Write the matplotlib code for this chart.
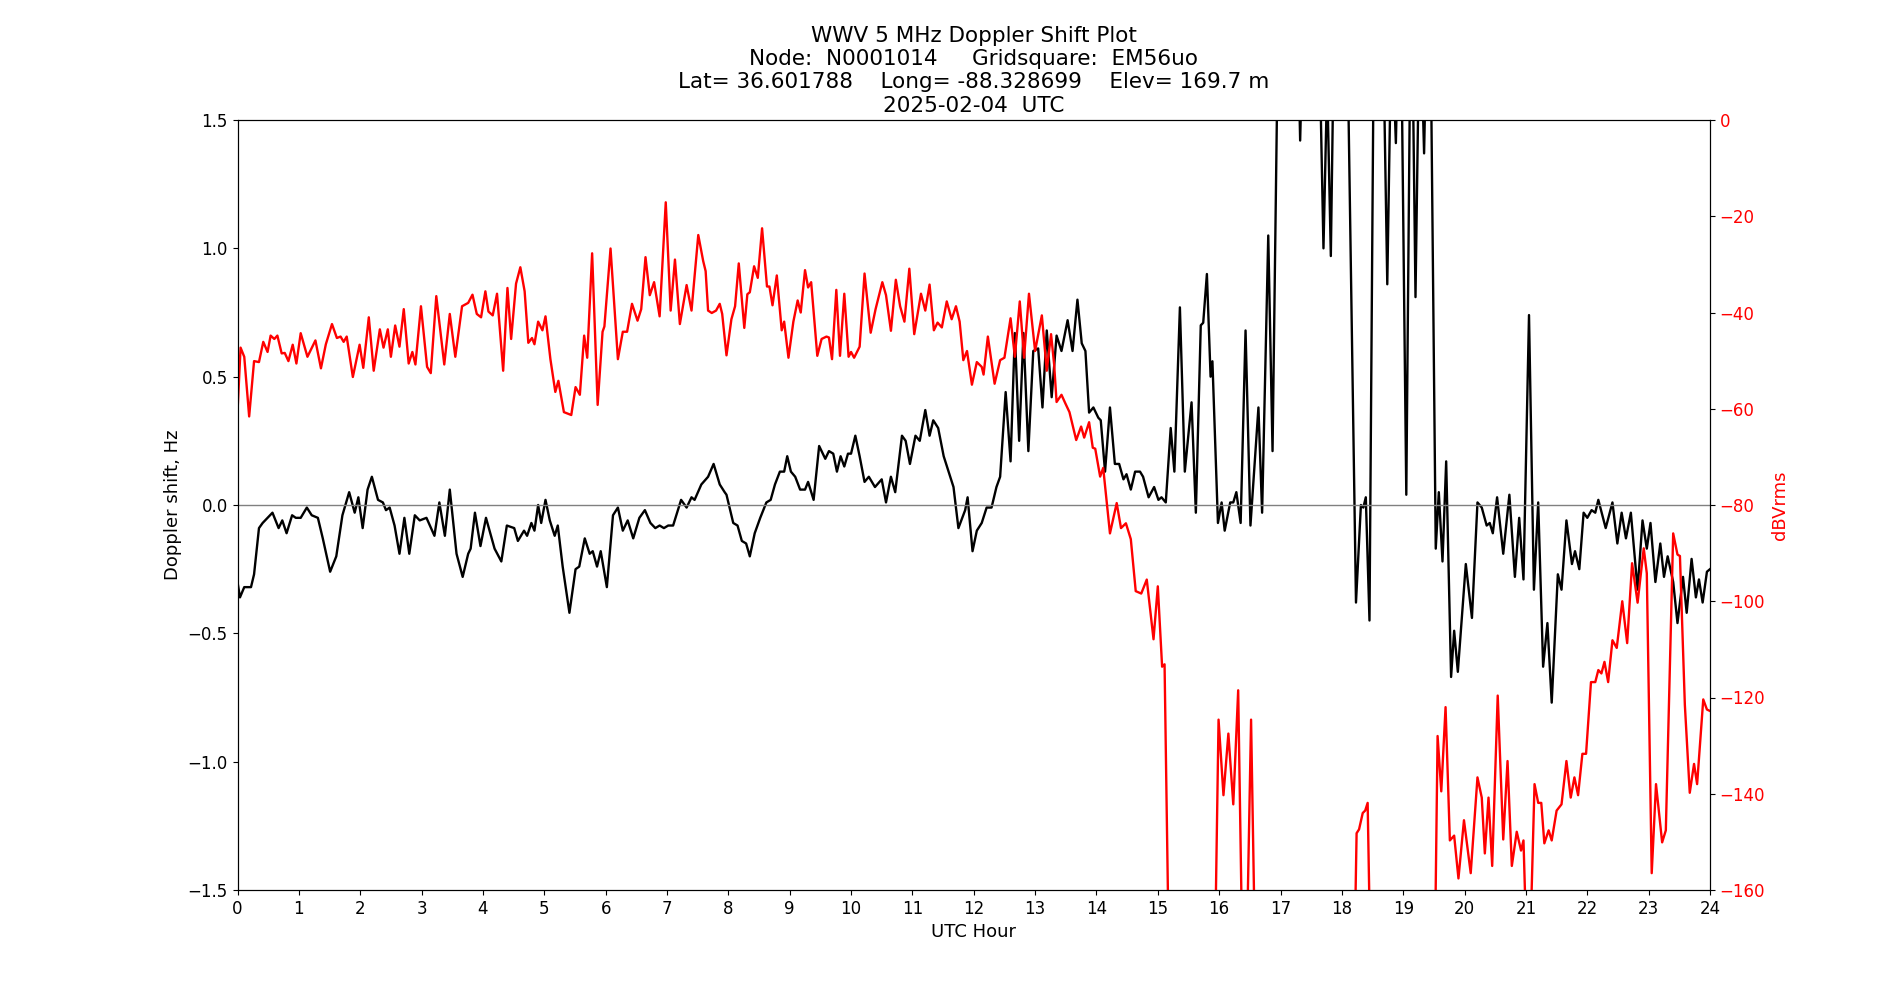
import matplotlib
matplotlib.use("Agg")
import matplotlib.pyplot as plt

# ---- Doppler shift (Hz) vs UTC hour ----
doppler_00_04 = [(0.00,-0.30),(0.04,-0.36),(0.11,-0.32),(0.22,-0.32),(0.27,-0.27),(0.35,-0.09),(0.41,-0.07),(0.49,-0.05),(0.57,-0.03),(0.67,-0.09),(0.73,-0.06),(0.80,-0.11),(0.89,-0.04),(0.95,-0.05),(1.03,-0.05),(1.13,-0.01),(1.21,-0.04),(1.31,-0.05),(1.39,-0.13),(1.51,-0.26),(1.61,-0.20),(1.71,-0.04),(1.82,0.05),(1.91,-0.03),(1.97,0.03),(2.04,-0.09),(2.12,0.06),(2.19,0.11),(2.29,0.02),(2.37,0.01),(2.42,-0.02),(2.48,-0.01),(2.56,-0.08),(2.64,-0.19),(2.72,-0.05),(2.80,-0.19),(2.89,-0.04),(2.97,-0.06),(3.08,-0.05),(3.21,-0.12),(3.29,0.01),(3.38,-0.12),(3.46,0.06),(3.57,-0.19),(3.67,-0.28),(3.76,-0.19),(3.80,-0.17),(3.87,-0.03),(3.96,-0.16)]
doppler_04_08 = [(4.05,-0.05),(4.19,-0.17),(4.30,-0.22),(4.39,-0.08),(4.51,-0.09),(4.57,-0.14),(4.67,-0.10),(4.72,-0.12),(4.79,-0.07),(4.84,-0.10),(4.90,0.00),(4.95,-0.07),(5.02,0.02),(5.09,-0.06),(5.17,-0.12),(5.22,-0.08),(5.30,-0.24),(5.41,-0.42),(5.51,-0.25),(5.57,-0.24),(5.66,-0.13),(5.74,-0.19),(5.79,-0.18),(5.86,-0.24),(5.92,-0.18),(6.02,-0.32),(6.12,-0.04),(6.20,-0.01),(6.28,-0.10),(6.36,-0.06),(6.45,-0.13),(6.55,-0.05),(6.64,-0.02),(6.73,-0.07),(6.81,-0.09),(6.88,-0.08),(6.95,-0.09),(7.02,-0.08),(7.10,-0.08),(7.23,0.02),(7.32,-0.01),(7.40,0.03),(7.45,0.02),(7.56,0.08),(7.67,0.11),(7.76,0.16),(7.86,0.08),(7.94,0.05)]
doppler_08_12 = [(7.97,0.04),(8.08,-0.07),(8.15,-0.08),(8.22,-0.14),(8.29,-0.15),(8.35,-0.20),(8.43,-0.11),(8.52,-0.05),(8.62,0.01),(8.69,0.02),(8.76,0.08),(8.84,0.13),(8.91,0.13),(8.96,0.19),(9.02,0.13),(9.09,0.11),(9.17,0.06),(9.25,0.06),(9.30,0.09),(9.39,0.02),(9.48,0.23),(9.58,0.18),(9.64,0.21),(9.71,0.20),(9.77,0.13),(9.83,0.19),(9.89,0.15),(9.95,0.20),(10.00,0.20),(10.07,0.27),(10.14,0.19),(10.22,0.09),(10.29,0.11),(10.39,0.07),(10.50,0.10),(10.57,0.01),(10.65,0.11),(10.72,0.05),(10.83,0.27),(10.89,0.25),(10.96,0.16),(11.05,0.27),(11.12,0.25),(11.21,0.37),(11.28,0.27),(11.34,0.33),(11.42,0.30),(11.51,0.19),(11.59,0.13),(11.67,0.07),(11.75,-0.09),(11.86,-0.02),(11.90,0.03),(11.98,-0.18)]
doppler_12_16 = [(12.05,-0.10),(12.13,-0.07),(12.21,-0.01),(12.29,-0.01),(12.37,0.07),(12.43,0.11),(12.52,0.44),(12.60,0.17),(12.67,0.67),(12.74,0.25),(12.81,0.67),(12.89,0.21),(12.97,0.60),(13.05,0.61),(13.12,0.38),(13.19,0.68),(13.27,0.42),(13.35,0.66),(13.43,0.60),(13.53,0.72),(13.61,0.60),(13.69,0.80),(13.76,0.63),(13.82,0.60),(13.88,0.36),(13.95,0.38),(14.03,0.34),(14.07,0.33),(14.14,0.13),(14.22,0.38),(14.30,0.16),(14.37,0.16),(14.44,0.10),(14.49,0.12),(14.56,0.06),(14.63,0.13),(14.71,0.13),(14.76,0.11),(14.85,0.03),(14.94,0.07),(15.01,0.02),(15.06,0.03),(15.13,0.01),(15.21,0.30),(15.27,0.13),(15.36,0.77),(15.44,0.13),(15.55,0.40),(15.62,-0.03),(15.70,0.70),(15.74,0.71),(15.80,0.90),(15.86,0.50),(15.89,0.56),(15.98,-0.07)]
doppler_16_20 = [(16.04,0.01),(16.09,-0.10),(16.18,0.01),(16.23,0.01),(16.28,0.05),(16.35,-0.07),(16.43,0.68),(16.51,-0.08),(16.64,0.38),(16.70,-0.03),(16.80,1.05),(16.87,0.21),(16.94,1.50),(17.05,2.60),(17.25,2.20),(17.32,1.42),(17.40,2.20),(17.55,2.80),(17.70,1.00),(17.76,1.65),(17.82,0.97),(17.88,2.00),(18.00,2.60),(18.11,1.50),(18.23,-0.38),(18.31,0.00),(18.35,-0.01),(18.39,0.03),(18.45,-0.45),(18.51,1.50),(18.62,2.60),(18.74,0.86),(18.81,1.90),(18.88,1.41),(18.95,2.20),(19.05,0.04),(19.13,2.20),(19.20,0.81),(19.27,2.00),(19.34,1.37),(19.41,2.20),(19.46,1.50),(19.53,-0.17),(19.58,0.05),(19.64,-0.22),(19.70,0.17),(19.78,-0.67),(19.83,-0.49),(19.89,-0.65),(20.02,-0.23)]
doppler_20_24 = [(20.12,-0.44),(20.21,0.01),(20.28,-0.01),(20.36,-0.08),(20.41,-0.07),(20.46,-0.11),(20.53,0.03),(20.63,-0.19),(20.73,0.04),(20.82,-0.28),(20.89,-0.05),(20.96,-0.29),(21.05,0.74),(21.13,-0.33),(21.20,0.01),(21.28,-0.63),(21.35,-0.46),(21.42,-0.77),(21.52,-0.27),(21.58,-0.33),(21.66,-0.06),(21.75,-0.23),(21.80,-0.18),(21.87,-0.25),(21.94,-0.03),(22.00,-0.05),(22.07,-0.02),(22.13,-0.03),(22.18,0.02),(22.30,-0.09),(22.41,0.01),(22.49,-0.15),(22.56,-0.03),(22.63,-0.13),(22.71,-0.03),(22.82,-0.33),(22.90,-0.06),(22.97,-0.17),(23.03,-0.07),(23.11,-0.30),(23.19,-0.15),(23.25,-0.28),(23.31,-0.20),(23.40,-0.30),(23.47,-0.46),(23.56,-0.28),(23.62,-0.42),(23.70,-0.21),(23.77,-0.36),(23.82,-0.29),(23.88,-0.38),(23.95,-0.26),(24.00,-0.25)]

# ---- Received power (dBVrms) vs UTC hour ----
power_00_04 = [(0.00,-60.7),(0.05,-47.3),(0.11,-49.2),(0.19,-61.6),(0.27,-50.1),(0.35,-50.3),(0.42,-46.1),(0.49,-48.2),(0.54,-44.8),(0.60,-45.5),(0.65,-44.8),(0.72,-48.5),(0.77,-48.4),(0.83,-50.1),(0.90,-46.7),(0.96,-50.6),(1.03,-44.3),(1.14,-49.2),(1.27,-45.8),(1.36,-51.6),(1.44,-46.6),(1.54,-42.4),(1.62,-45.3),(1.68,-45.0),(1.73,-46.1),(1.78,-45.0),(1.88,-53.4),(1.99,-46.7),(2.05,-51.5),(2.14,-41.0),(2.22,-52.1),(2.32,-43.5),(2.38,-47.3),(2.45,-43.5),(2.50,-49.2),(2.57,-42.7),(2.64,-47.1),(2.71,-39.3),(2.79,-50.6),(2.85,-48.2),(2.90,-50.8),(2.99,-38.7),(3.09,-51.3),(3.15,-52.6),(3.24,-36.6),(3.37,-50.8),(3.46,-40.3),(3.55,-49.2),(3.66,-38.7),(3.76,-38.0),(3.83,-36.3),(3.90,-40.3),(3.97,-41.0)]
power_04_08 = [(4.04,-35.6),(4.09,-39.8),(4.16,-40.6),(4.23,-36.1),(4.33,-52.1),(4.40,-34.9),(4.46,-45.5),(4.54,-34.0),(4.61,-30.6),(4.68,-35.6),(4.74,-46.3),(4.80,-45.3),(4.84,-46.6),(4.90,-41.9),(4.97,-43.7),(5.02,-40.8),(5.10,-49.7),(5.18,-56.5),(5.23,-54.2),(5.32,-60.7),(5.44,-61.3),(5.51,-55.5),(5.58,-57.1),(5.65,-44.8),(5.70,-49.4),(5.78,-27.7),(5.87,-59.2),(5.95,-44.0),(5.98,-42.9),(6.08,-26.7),(6.20,-49.7),(6.28,-44.0),(6.35,-44.0),(6.43,-38.2),(6.52,-41.7),(6.58,-39.3),(6.65,-28.5),(6.72,-36.4),(6.79,-33.7),(6.88,-40.8),(6.98,-17.1),(7.06,-39.6),(7.13,-29.0),(7.21,-42.4),(7.32,-34.3),(7.40,-39.6),(7.51,-23.9),(7.59,-29.3),(7.63,-31.4),(7.67,-39.6),(7.73,-40.1),(7.80,-39.6),(7.86,-38.2),(7.90,-40.3),(7.97,-48.9)]
power_08_12 = [(8.05,-41.4),(8.11,-38.7),(8.17,-29.8),(8.26,-43.2),(8.31,-36.2),(8.35,-35.8),(8.42,-30.4),(8.48,-32.8),(8.55,-22.5),(8.63,-34.6),(8.67,-34.6),(8.72,-38.5),(8.79,-32.3),(8.87,-43.7),(8.91,-41.9),(8.98,-49.4),(9.06,-41.9),(9.13,-37.5),(9.18,-40.0),(9.25,-31.2),(9.30,-34.8),(9.35,-33.7),(9.45,-49.0),(9.52,-45.5),(9.60,-45.0),(9.64,-45.2),(9.69,-49.7),(9.76,-35.3),(9.82,-49.0),(9.89,-36.1),(9.96,-49.2),(10.00,-48.2),(10.05,-49.4),(10.14,-47.1),(10.22,-31.9),(10.32,-44.2),(10.40,-39.3),(10.51,-33.7),(10.57,-36.4),(10.65,-43.8),(10.73,-33.2),(10.80,-38.7),(10.87,-41.9),(10.95,-30.9),(11.03,-44.5),(11.14,-36.1),(11.21,-39.6),(11.28,-34.2),(11.35,-43.7),(11.41,-42.1),(11.48,-43.1),(11.56,-37.7),(11.64,-41.4),(11.71,-38.7),(11.77,-41.9),(11.83,-49.9),(11.89,-48.0),(11.97,-55.0)]
power_12_16 = [(12.05,-50.3),(12.13,-51.3),(12.16,-52.9),(12.23,-45.0),(12.34,-54.8),(12.43,-49.9),(12.50,-49.4),(12.60,-41.2),(12.67,-49.2),(12.75,-37.7),(12.82,-49.4),(12.90,-36.1),(13.00,-48.0),(13.11,-40.6),(13.19,-52.1),(13.26,-44.5),(13.31,-50.8),(13.35,-58.6),(13.43,-57.1),(13.49,-58.8),(13.56,-60.7),(13.67,-66.5),(13.75,-63.7),(13.80,-66.0),(13.88,-62.8),(13.94,-68.1),(13.98,-68.3),(14.06,-74.1),(14.11,-72.3),(14.22,-85.9),(14.33,-79.6),(14.40,-84.8),(14.48,-83.8),(14.56,-87.1),(14.64,-97.9),(14.73,-98.4),(14.82,-95.5),(14.93,-107.9),(15.00,-96.9),(15.07,-113.6),(15.11,-113.1),(15.21,-200.0),(15.90,-200.0)]
power_16_20 = [(15.99,-124.6),(16.07,-140.3),(16.15,-127.5),(16.23,-142.2),(16.31,-118.5),(16.41,-200.0),(16.52,-124.6),(16.62,-200.0),(18.17,-200.0),(18.24,-148.2),(18.28,-147.4),(18.34,-144.0),(18.38,-143.5),(18.42,-141.9),(18.50,-200.0),(19.49,-200.0),(19.56,-128.0),(19.62,-139.5),(19.69,-122.0),(19.76,-149.7),(19.83,-148.7),(19.90,-157.6)]
power_20_24 = [(19.99,-145.5),(20.10,-156.5),(20.21,-136.6),(20.28,-140.8),(20.33,-152.4),(20.39,-140.8),(20.45,-155.0),(20.54,-119.6),(20.63,-149.5),(20.70,-133.2),(20.77,-155.0),(20.85,-147.9),(20.92,-151.8),(20.96,-149.7),(21.04,-185.0),(21.14,-138.0),(21.20,-141.9),(21.25,-141.9),(21.30,-150.3),(21.37,-147.6),(21.42,-149.7),(21.50,-143.5),(21.58,-142.2),(21.66,-133.2),(21.73,-140.8),(21.79,-136.6),(21.85,-140.3),(21.92,-131.7),(21.98,-131.7),(22.06,-116.8),(22.13,-116.8),(22.18,-114.3),(22.23,-115.0),(22.28,-112.6),(22.34,-116.8),(22.41,-108.1),(22.48,-109.7),(22.57,-100.0),(22.65,-108.7),(22.73,-92.1),(22.82,-100.3),(22.92,-89.0),(22.97,-94.2),(23.05,-156.5),(23.12,-138.0),(23.22,-150.1),(23.28,-147.6),(23.40,-85.9),(23.47,-90.3),(23.51,-90.6),(23.59,-121.5),(23.67,-139.8),(23.74,-133.8),(23.79,-138.0),(23.89,-120.4),(23.95,-122.5),(24.00,-122.8)]

hour_ticks = list(range(0, 25))
power_ticks = list(range(-160, 1, 20))

title_text = ("WWV 5 MHz Doppler Shift Plot\n"
              "Node:  N0001014     Gridsquare:  EM56uo\n"
              "Lat= 36.601788    Long= -88.328699    Elev= 169.7 m\n"
              "2025-02-04  UTC")

doppler = doppler_00_04 + doppler_04_08 + doppler_08_12 + doppler_12_16 + doppler_16_20 + doppler_20_24
power = power_00_04 + power_04_08 + power_08_12 + power_12_16 + power_16_20 + power_20_24
d_hours = [p[0] for p in doppler]
d_vals = [p[1] for p in doppler]
p_hours = [p[0] for p in power]
p_vals = [p[1] for p in power]

fig, ax1 = plt.subplots(figsize=(19, 10), dpi=100)
ax1.plot(d_hours, d_vals, color='black', linewidth=1.7)
ax1.axhline(0, color='gray', linewidth=1)
ax1.set_xlim(0, 24)
ax1.set_ylim(-1.5, 1.5)
ax1.set_xticks(hour_ticks)
ax1.set_xlabel('UTC Hour', fontsize=13)
ax1.set_ylabel('Doppler shift, Hz', fontsize=13)
ax1.tick_params(labelsize=12)
ax1.set_title(title_text, fontsize=15.5)

ax2 = ax1.twinx()
ax2.plot(p_hours, p_vals, color='red', linewidth=1.7)
ax2.set_ylim(-160, 0)
ax2.set_yticks(power_ticks)
ax2.set_ylabel('dBVrms', color='red', fontsize=13)
ax2.tick_params(axis='y', labelcolor='red', labelsize=12)

fig.savefig('out.png', dpi=100)
